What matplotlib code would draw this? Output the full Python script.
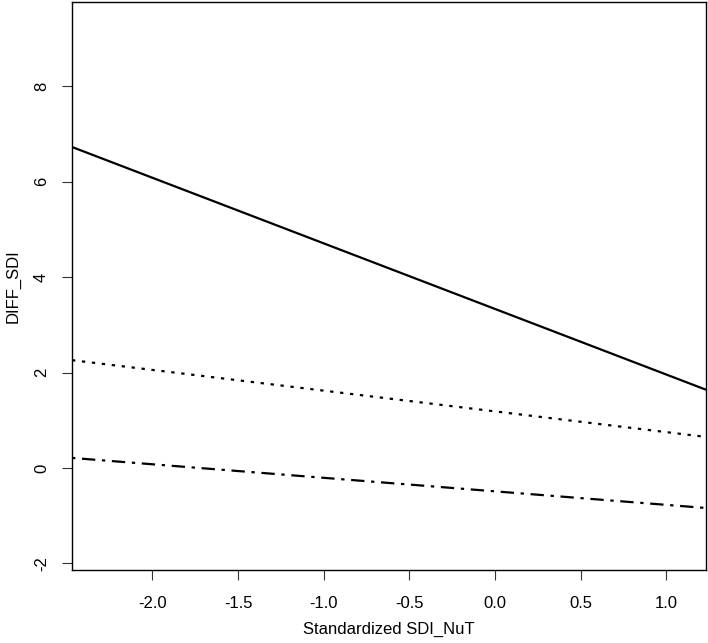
import matplotlib
matplotlib.use("Agg")
import matplotlib.pyplot as plt

plt.rcParams['font.family'] = ['Liberation Sans', 'DejaVu Sans']

x_ends = [-2.47, 1.232]
high = [6.73, 1.64]
mid = [2.26, 0.65]
low = [0.21, -0.84]

x_ticks = [-2.0, -1.5, -1.0, -0.5, 0.0, 0.5, 1.0]
y_ticks = [-2, 0, 2, 4, 6, 8]

fig = plt.figure(figsize=(7.08, 6.43), dpi=100)
ax = fig.add_axes([72/708, 73/643, 634/708, 568/643])

ax.plot(x_ends, high, color='black', lw=1.6, solid_capstyle='butt')
ax.plot(x_ends, mid, color='black', lw=1.6, linestyle=(0, (1.5, 3)))
ax.plot(x_ends, low, color='black', lw=1.6, linestyle=(0, (1.5, 3, 6, 3)))

ax.set_xlim(-2.47, 1.232)
ax.set_ylim(-2.14, 9.77)
ax.set_xticks(x_ticks)
ax.set_xticklabels([f"{v:.1f}" for v in x_ticks])
ax.set_yticks(y_ticks)
ax.set_yticklabels([str(v) for v in y_ticks], rotation=90, va='center')
ax.tick_params(axis='both', length=7.5, width=0.8, labelsize=12, color='#333333')
ax.tick_params(axis='x', pad=11)
ax.tick_params(axis='y', pad=9)
for s in ax.spines.values():
    s.set_linewidth(1.0)
ax.set_xlabel("Standardized SDI_NuT", fontsize=12, labelpad=8)
ax.set_ylabel("DIFF_SDI", fontsize=12, labelpad=10)

fig.savefig("out.png", dpi=100)
